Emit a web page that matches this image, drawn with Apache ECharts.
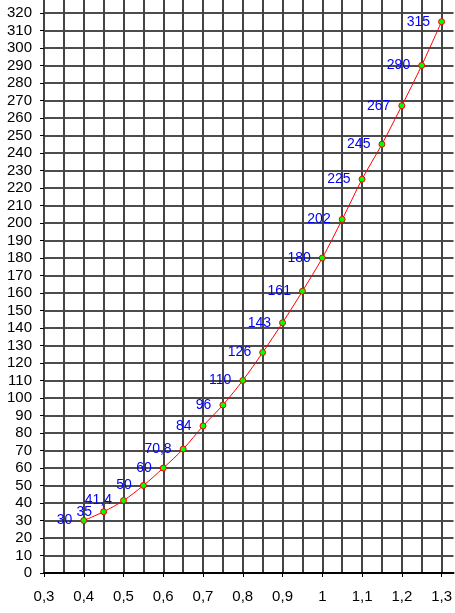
<!DOCTYPE html>
<html>
<head>
<meta charset="utf-8">
<script src="https://cdn.jsdelivr.net/npm/echarts@6/dist/echarts.min.js"></script>
<style>
html,body{margin:0;padding:0;background:#fff;}
#c{width:455px;height:613px;}
</style>
</head>
<body>
<div id="c"></div>
<script>
const xValues = [0.4, 0.45, 0.5, 0.55, 0.6, 0.65, 0.7, 0.75, 0.8, 0.85, 0.9, 0.95, 1.0, 1.05, 1.1, 1.15, 1.2, 1.25, 1.3];
const yValues = [30, 35, 41.4, 50, 60, 70.8, 84, 96, 110, 126, 143, 161, 180, 202, 225, 245, 267, 290, 315];

const fmt = v => String(+v.toFixed(2)).replace('.', ',');
const data = xValues.map((x, i) => [x, yValues[i]]);

const chart = echarts.init(document.getElementById('c'), null, {renderer: 'canvas'});
chart.setOption({
  animation: false,
  backgroundColor: '#fff',
  grid: {left: 44, right: 0, top: 0, bottom: 40},
  xAxis: [{
    type: 'value', min: 0.3, max: 1.33, interval: 0.1,
    axisLine: {show: true, onZero: false, lineStyle: {color: '#000', width: 2}},
    axisTick: {show: true, length: 4, lineStyle: {color: '#000', width: 1}},
    axisLabel: {showMaxLabel: false, margin: 16, color: '#000', fontSize: 15, fontFamily: 'Liberation Sans, Arial, sans-serif', formatter: v => fmt(v)},
    splitLine: {show: false}
  }, {
    type: 'value', min: 0.3, max: 1.33, interval: 0.05, position: 'bottom',
    axisLine: {show: false}, axisTick: {show: false}, axisLabel: {show: false},
    splitLine: {show: true, showMaxLine: false, lineStyle: {color: '#444', width: 2}}
  }],
  yAxis: {
    type: 'value', min: 0, max: 327.4, interval: 10,
    axisLine: {show: true, onZero: false, lineStyle: {color: '#444', width: 2}},
    axisTick: {show: true, length: 4, lineStyle: {color: '#000', width: 1}},
    axisLabel: {showMaxLabel: false, margin: 12, color: '#000', fontSize: 15, fontFamily: 'Liberation Sans, Arial, sans-serif'},
    splitLine: {show: true, showMaxLine: false, lineStyle: {color: '#111', width: 1.5}}
  },
  series: [{
    type: 'line', xAxisIndex: 0, data: data, smooth: 0.3,
    lineStyle: {color: '#ff0000', width: 1},
    symbol: 'circle', symbolSize: 6,
    itemStyle: {color: '#00ff00', borderColor: '#ff0000', borderWidth: 1},
    label: {show: true, position: 'left', distance: 8, color: '#0000ff', fontSize: 14,
      fontFamily: 'Liberation Sans, Arial, sans-serif', formatter: p => fmt(p.value[1])}
  }]
});
</script>
</body>
</html>
